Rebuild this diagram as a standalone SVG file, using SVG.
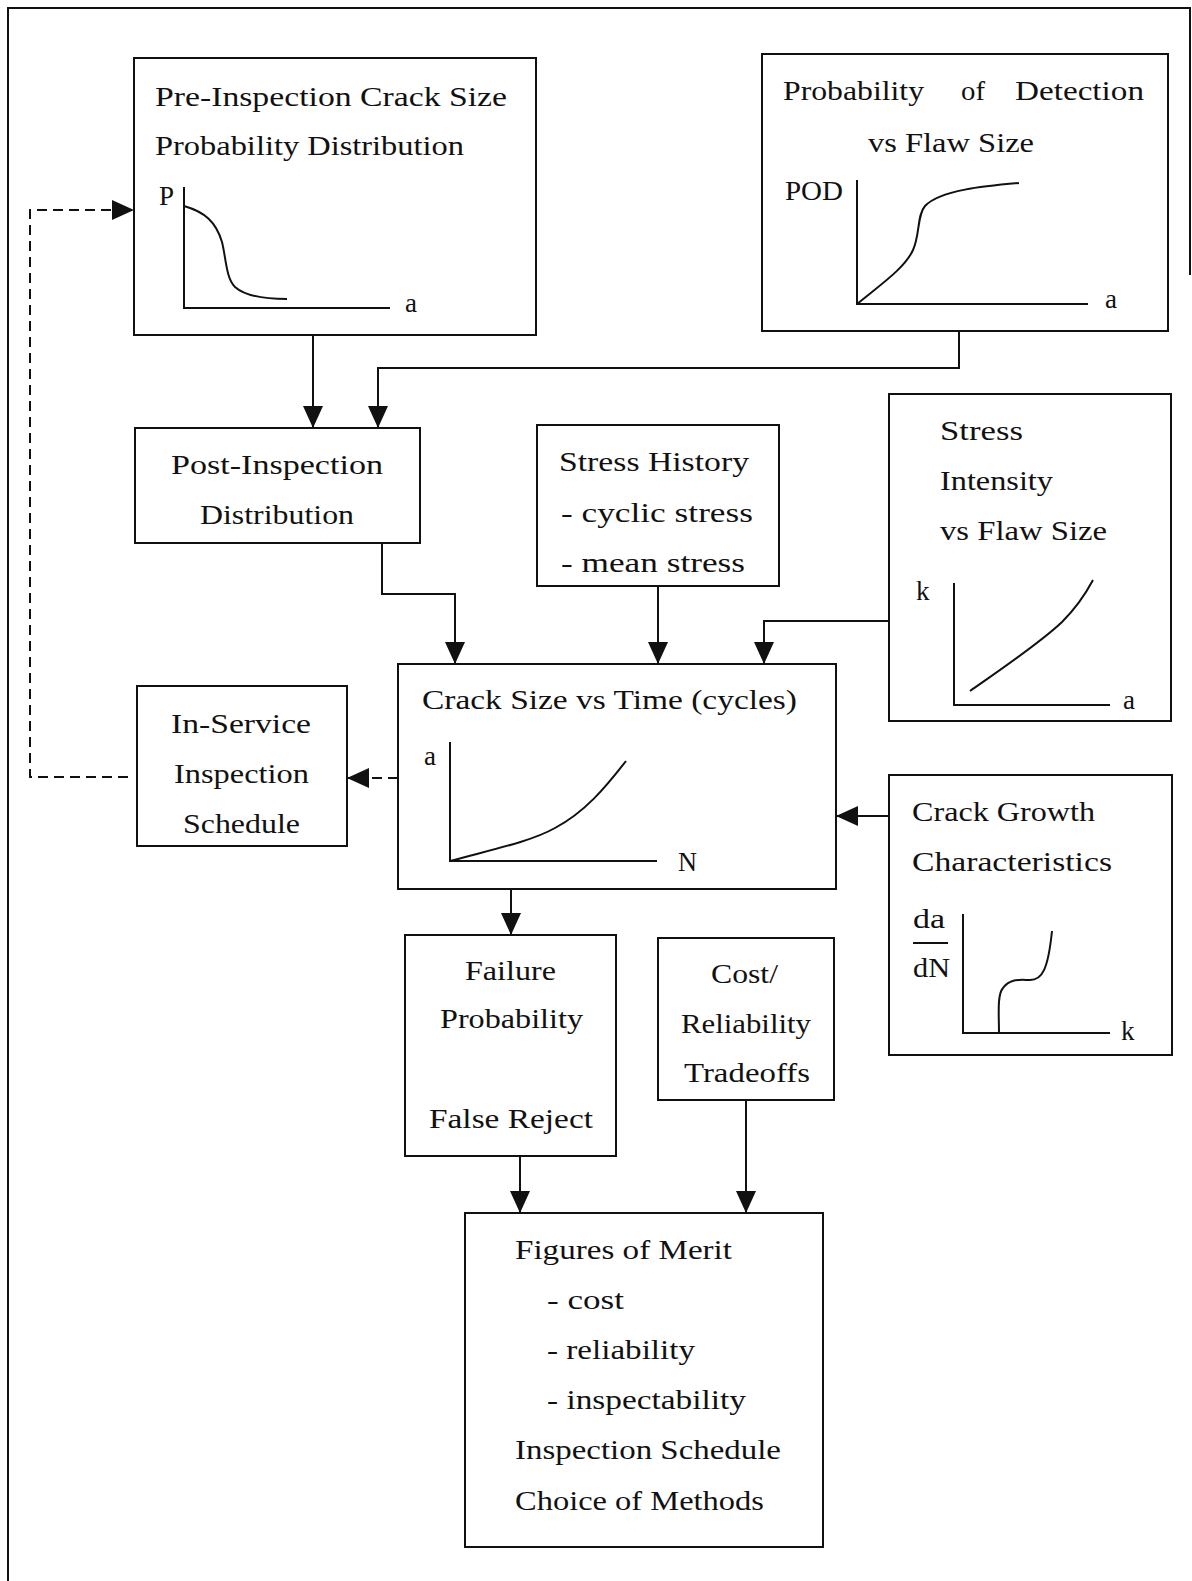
<svg xmlns="http://www.w3.org/2000/svg" width="1192" height="1581" viewBox="0 0 1192 1581">
<style>
text{font-family:"Liberation Serif","Times New Roman",serif;font-size:27px;fill:#111}
.box{fill:#fff;stroke:#111;stroke-width:2}
.ax{fill:none;stroke:#111;stroke-width:2}
.cv{fill:none;stroke:#111;stroke-width:2}
.ln{fill:none;stroke:#111;stroke-width:2}
.dash{fill:none;stroke:#111;stroke-width:2;stroke-dasharray:10 6}
</style>
<defs>
<marker id="ah" viewBox="0 0 22 20" refX="22" refY="10" markerWidth="22" markerHeight="20" markerUnits="userSpaceOnUse" orient="auto">
<path d="M0,0 L22,10 L0,20 Z" fill="#111" stroke="none"/>
</marker>
</defs>
<rect width="1192" height="1581" fill="#fff"/>
<path id="frame" d="M8,1581 V8 H1190 V275" fill="none" stroke="#111" stroke-width="2"/>

<g id="pre-inspection">
<rect class="box" x="134" y="58" width="402" height="277"/>
<text x="155" y="106" textLength="352" lengthAdjust="spacingAndGlyphs">Pre-Inspection Crack Size</text>
<text x="155" y="155" textLength="309" lengthAdjust="spacingAndGlyphs">Probability Distribution</text>
<text x="159" y="205">P</text>
<path class="ax" d="M184,187 V308 H390"/>
<text x="405" y="312">a</text>
<path class="cv" d="M184,206 C205,212 216,222 222,242 C226,258 226,278 235,287 C245,296 265,299 287,299"/>
</g>

<g id="pod">
<rect class="box" x="762" y="54" width="406" height="277"/>
<text x="783" y="100" textLength="141" lengthAdjust="spacingAndGlyphs">Probability</text>
<text x="961" y="100" textLength="24" lengthAdjust="spacingAndGlyphs">of</text>
<text x="1015" y="100" textLength="129" lengthAdjust="spacingAndGlyphs">Detection</text>
<text x="868" y="152" textLength="166" lengthAdjust="spacingAndGlyphs">vs Flaw Size</text>
<text x="785" y="200" textLength="58" lengthAdjust="spacingAndGlyphs">POD</text>
<path class="ax" d="M857,180 V304 H1088"/>
<text x="1105" y="308">a</text>
<path class="cv" d="M857,304 C880,285 905,268 913,250 C920,235 917,215 925,206 C940,190 985,186 1019,183"/>
</g>

<g id="post-inspection">
<rect class="box" x="135" y="428" width="285" height="115"/>
<text x="171" y="474" textLength="212" lengthAdjust="spacingAndGlyphs">Post-Inspection</text>
<text x="200" y="524" textLength="154" lengthAdjust="spacingAndGlyphs">Distribution</text>
</g>

<g id="stress-history">
<rect class="box" x="537" y="425" width="242" height="161"/>
<text x="559" y="471" textLength="190" lengthAdjust="spacingAndGlyphs">Stress History</text>
<text x="561" y="522" textLength="192" lengthAdjust="spacingAndGlyphs">- cyclic stress</text>
<text x="561" y="572" textLength="184" lengthAdjust="spacingAndGlyphs">- mean stress</text>
</g>

<g id="stress-intensity">
<rect class="box" x="889" y="394" width="282" height="327"/>
<text x="940" y="440" textLength="83" lengthAdjust="spacingAndGlyphs">Stress</text>
<text x="940" y="490" textLength="113" lengthAdjust="spacingAndGlyphs">Intensity</text>
<text x="940" y="540" textLength="167" lengthAdjust="spacingAndGlyphs">vs Flaw Size</text>
<text x="916" y="600">k</text>
<path class="ax" d="M954,583 V705 H1110"/>
<text x="1123" y="709">a</text>
<path class="cv" d="M970,691 C1000,670 1040,643 1062,622 C1075,609 1085,595 1093,580"/>
</g>

<g id="crack-size">
<rect class="box" x="398" y="664" width="438" height="225"/>
<text x="422" y="709" textLength="375" lengthAdjust="spacingAndGlyphs">Crack Size vs Time (cycles)</text>
<text x="424" y="765">a</text>
<path class="ax" d="M450,742 V861 H657"/>
<text x="678" y="871" textLength="19" lengthAdjust="spacingAndGlyphs">N</text>
<path class="cv" d="M450,861 C490,850 530,842 555,828 C585,812 605,788 626,761"/>
</g>

<g id="in-service">
<rect class="box" x="137" y="686" width="210" height="160"/>
<text x="171" y="733" textLength="140" lengthAdjust="spacingAndGlyphs">In-Service</text>
<text x="174" y="783" textLength="135" lengthAdjust="spacingAndGlyphs">Inspection</text>
<text x="183" y="833" textLength="117" lengthAdjust="spacingAndGlyphs">Schedule</text>
</g>

<g id="crack-growth">
<rect class="box" x="889" y="775" width="283" height="280"/>
<text x="912" y="821" textLength="183" lengthAdjust="spacingAndGlyphs">Crack Growth</text>
<text x="912" y="871" textLength="200" lengthAdjust="spacingAndGlyphs">Characteristics</text>
<text x="913" y="928" textLength="32" lengthAdjust="spacingAndGlyphs">da</text>
<path class="ln" d="M913,943 H948"/>
<text x="913" y="977" textLength="37" lengthAdjust="spacingAndGlyphs">dN</text>
<path class="ax" d="M963,914 V1033 H1110"/>
<text x="1121" y="1040">k</text>
<path class="cv" d="M999,1033 C999,1015 997,995 1003,988 C1010,978 1020,980 1030,980 C1042,980 1048,970 1052,931"/>
</g>

<g id="failure">
<rect class="box" x="405" y="935" width="211" height="221"/>
<text x="465" y="980" textLength="91" lengthAdjust="spacingAndGlyphs">Failure</text>
<text x="440" y="1028" textLength="143" lengthAdjust="spacingAndGlyphs">Probability</text>
<text x="429" y="1128" textLength="164" lengthAdjust="spacingAndGlyphs">False Reject</text>
</g>

<g id="cost">
<rect class="box" x="658" y="938" width="176" height="162"/>
<text x="711" y="983" textLength="67" lengthAdjust="spacingAndGlyphs">Cost/</text>
<text x="681" y="1033" textLength="130" lengthAdjust="spacingAndGlyphs">Reliability</text>
<text x="684" y="1082" textLength="126" lengthAdjust="spacingAndGlyphs">Tradeoffs</text>
</g>

<g id="figures-of-merit">
<rect class="box" x="465" y="1213" width="358" height="334"/>
<text x="515" y="1259" textLength="217" lengthAdjust="spacingAndGlyphs">Figures of Merit</text>
<text x="547" y="1309" textLength="77" lengthAdjust="spacingAndGlyphs">- cost</text>
<text x="547" y="1359" textLength="148" lengthAdjust="spacingAndGlyphs">- reliability</text>
<text x="547" y="1409" textLength="199" lengthAdjust="spacingAndGlyphs">- inspectability</text>
<text x="515" y="1459" textLength="266" lengthAdjust="spacingAndGlyphs">Inspection Schedule</text>
<text x="515" y="1510" textLength="249" lengthAdjust="spacingAndGlyphs">Choice of Methods</text>
</g>

<g id="connectors">
<path class="ln" d="M313,335 V428" marker-end="url(#ah)"/>
<path class="ln" d="M959,331 V368 H378 V428" marker-end="url(#ah)"/>
<path class="ln" d="M382,543 V594 H455 V664" marker-end="url(#ah)"/>
<path class="ln" d="M658,586 V664" marker-end="url(#ah)"/>
<path class="ln" d="M889,621 H764 V664" marker-end="url(#ah)"/>
<path class="ln" d="M889,816 H836" marker-end="url(#ah)"/>
<path class="dash" d="M398,778 H347" marker-end="url(#ah)"/>
<path class="dash" d="M128,777 H30 V210 H134" marker-end="url(#ah)"/>
<path class="ln" d="M511,889 V935" marker-end="url(#ah)"/>
<path class="ln" d="M520,1156 V1213" marker-end="url(#ah)"/>
<path class="ln" d="M746,1100 V1213" marker-end="url(#ah)"/>
</g>
</svg>
